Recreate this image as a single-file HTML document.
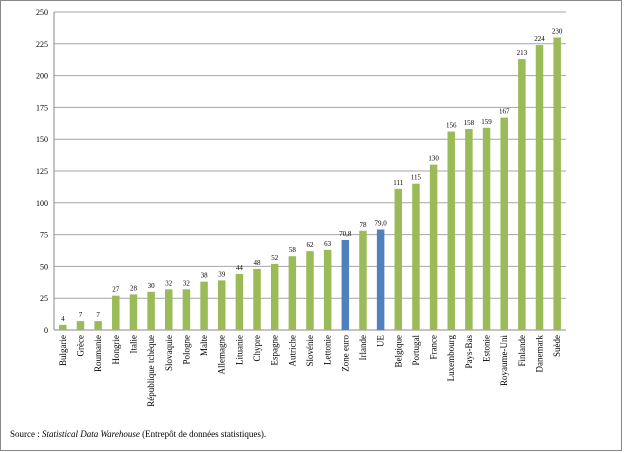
<!DOCTYPE html>
<html><head><meta charset="utf-8"><style>
body{margin:0;background:#fff;}
svg{display:block;font-family:"Liberation Serif",serif;}
</style></head><body>
<svg id="c" width="624" height="453">
<rect x="0.5" y="0.5" width="621" height="450" fill="#fff" stroke="#888"/>
<g id="grid"></g><g id="bars"></g>
<text x="10" y="437" font-size="9">Source : <tspan font-style="italic">Statistical Data Warehouse</tspan> (Entrepôt de données statistiques).</text>
</svg>
<script>
const categories=["Bulgarie","Grèce","Roumanie","Hongrie","Italie","République tchèque","Slovaquie","Pologne","Malte","Allemagne","Lituanie","Chypre","Espagne","Autriche","Slovénie","Lettonie","Zone euro","Irlande","UE","Belgique","Portugal","France","Luxembourg","Pays-Bas","Estonie","Royaume-Uni","Finlande","Danemark","Suède"];
const values=[4,7,7,27,28,30,32,32,38,39,44,48,52,58,62,63,70.8,78,79.0,111,115,130,156,158,159,167,213,224,230];
const valueLabels=["4","7","7","27","28","30","32","32","38","39","44","48","52","58","62","63","70,8","78","79,0","111","115","130","156","158","159","167","213","224","230"];
const highlighted=["Zone euro","UE"];
const ticks=[0,25,50,75,100,125,150,175,200,225,250];
const NS="http://www.w3.org/2000/svg";
const x0=54,x1=566,yTop=12,yBot=330,vmax=250;
const y=v=>yBot-(v/vmax)*(yBot-yTop);
const band=(x1-x0)/categories.length;
const xc=i=>x0+band*(i+0.5);
function mk(t,a,p){const e=document.createElementNS(NS,t);for(const k in a)e.setAttribute(k,a[k]);p.appendChild(e);return e;}
const g=document.getElementById('grid'),b=document.getElementById('bars');
ticks.forEach(t=>{
 const l=mk('line',{x1:x0,x2:x1,y1:y(t),y2:y(t),stroke:t?'#a6a6a6':'#888','stroke-width':1},g);
 
 
 const tx=mk('text',{x:x0-6,y:y(t)+3,'font-size':8,'text-anchor':'end'},g);
 tx.textContent=t;
 
 
});
mk('line',{x1:x0,x2:x0,y1:yTop,y2:yBot,stroke:'#888'},g);
categories.forEach((c,i)=>{
 const v=values[i],bw=7.5;
 const r=mk('rect',{x:xc(i)-bw/2,y:y(v),width:bw,height:yBot-y(v),fill:highlighted.includes(c)?'#4f81bd':'#9bbb59'},b);
 
 
 const vl=mk('text',{x:xc(i),y:y(v)-4,'font-size':7,'text-anchor':'middle'},b);
 vl.textContent=valueLabels[i];
 
 
 const cl=mk('text',{x:0,y:0,'font-size':9,'text-anchor':'end',transform:`translate(${xc(i)+3},${yBot+5}) rotate(-90)`},b);
 cl.textContent=c;
 
 
});
</script>
</body></html>
